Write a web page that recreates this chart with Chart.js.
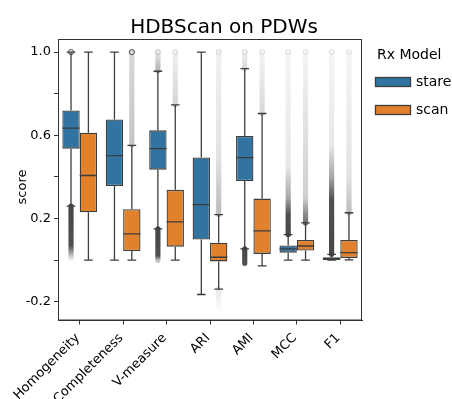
<!DOCTYPE html>
<html>
<head>
<meta charset="utf-8">
<script src="https://cdn.jsdelivr.net/npm/chart.js@4.4.1/dist/chart.umd.min.js"></script>
<style>
  html, body { margin: 0; padding: 0; background: #fff; }
</style>
</head>
<body>
<canvas id="boxChart" width="452" height="399"></canvas>
<script>
// categories and tick labels
const metrics = ['Homogeneity', 'Completeness', 'V-measure', 'ARI', 'AMI', 'MCC', 'F1'];
const yTicks = [-0.2, 0, 0.2, 0.4, 0.6, 0.8, 1.0];
const yTickLabels = ['-0.2', '', '0.2', '', '0.6', '', '1.0'];

// stare: whisker low, q1, median, q3, whisker high
const stareLo  = [0.26, 0.0, 0.15, -0.165, 0.054, 0.0, 0.0];
const stareQ1  = [0.536, 0.356, 0.435, 0.099, 0.380, 0.036, 0.001];
const stareMed = [0.635, 0.502, 0.536, 0.267, 0.493, 0.054, 0.007];
const stareQ3  = [0.719, 0.676, 0.624, 0.494, 0.597, 0.071, 0.014];
const stareHi  = [1.0, 1.0, 0.908, 1.0, 0.921, 0.123, 0.028];

// scan
const scanLo  = [0.0, 0.0, 0.0, -0.139, -0.027, 0.0, 0.001];
const scanQ1  = [0.23, 0.044, 0.065, -0.006, 0.030, 0.046, 0.011];
const scanMed = [0.407, 0.126, 0.184, 0.014, 0.141, 0.068, 0.036];
const scanQ3  = [0.613, 0.245, 0.338, 0.084, 0.296, 0.097, 0.097];
const scanHi  = [1.0, 0.552, 0.746, 0.219, 0.705, 0.179, 0.228];

// outlier runs as [value, density] stops; a single stop is one lone marker
const stareFliers = [
  [[[0.26, 0.95], [0.07, 0.9], [0.0, 0.04]], [[1.0, 0.9]]],
  [],
  [[[0.15, 0.95], [0.02, 0.9], [0.0, 0.3]], [[0.91, 0.4], [1.0, 0.12]], [[1.0, 0.2]]],
  [],
  [[[0.054, 0.95], [-0.015, 0.9]], [[0.92, 0.2], [1.0, 0.08]], [[1.0, 0.15]]],
  [[[0.123, 0.95], [0.22, 0.9], [0.3, 0.45], [0.45, 0.12], [1.0, 0.05]], [[1.0, 0.12]]],
  [[[0.028, 0.95], [0.29, 0.9], [0.4, 0.45], [0.55, 0.12], [1.0, 0.05]], [[1.0, 0.12]]]
];
const scanFliers = [
  [],
  [[[0.552, 0.3], [1.0, 0.2]], [[1.0, 0.9]]],
  [[[0.746, 0.22], [1.0, 0.08]], [[1.0, 0.15]]],
  [[[0.219, 0.35], [0.5, 0.15], [1.0, 0.08]], [[-0.139, 0.12], [-0.225, 0.03]], [[1.0, 0.15]]],
  [[[0.705, 0.2], [1.0, 0.06]], [[1.0, 0.12]]],
  [[[0.179, 0.75], [0.22, 0.6], [0.3, 0.25], [1.0, 0.05]], [[1.0, 0.12]]],
  [[[0.228, 0.35], [0.4, 0.15], [1.0, 0.05]], [[1.0, 0.12]]]
];

const stareColor = '#3274a1';
const scanColor = '#e1812c';
const lineColor = '#3d3d3d';

const series = [
  { lo: stareLo, med: stareMed, hi: stareHi, fliers: stareFliers },
  { lo: scanLo, med: scanMed, hi: scanHi, fliers: scanFliers }
];

function drawRun(ctx, x, ys, stops) {
  const r = 2.6;
  if (stops.length === 1) {
    ctx.strokeStyle = 'rgba(61,61,61,' + stops[0][1] + ')';
    ctx.lineWidth = 1;
    ctx.beginPath();
    ctx.arc(x, ys.getPixelForValue(stops[0][0]), r, 0, Math.PI * 2);
    ctx.stroke();
    return;
  }
  const px = stops.map(s => ys.getPixelForValue(s[0]));
  const y0 = px[0], y1 = px[px.length - 1];
  const g = ctx.createLinearGradient(0, y0, 0, y1);
  stops.forEach((s, k) => {
    g.addColorStop((px[k] - y0) / (y1 - y0), 'rgba(61,61,61,' + s[1] + ')');
  });
  ctx.fillStyle = g;
  const top = Math.min(y0, y1) - r, bot = Math.max(y0, y1) + r;
  ctx.beginPath();
  ctx.roundRect(x - r, top, 2 * r, bot - top, r);
  ctx.fill();
}

const boxExtras = {
  id: 'boxExtras',
  afterDatasetsDraw(chart) {
    const ctx = chart.ctx, ys = chart.scales.y, area = chart.chartArea;
    ctx.save();
    ctx.beginPath();
    ctx.rect(area.left, area.top, area.right - area.left, area.bottom - area.top);
    ctx.clip();
    series.forEach((s, di) => {
      const meta = chart.getDatasetMeta(di);
      meta.data.forEach((bar, i) => {
        const x = bar.x, w = bar.width;
        s.fliers[i].forEach(run => drawRun(ctx, x, ys, run));
        const yQ1 = Math.max(bar.y, bar.base), yQ3 = Math.min(bar.y, bar.base);
        const yLo = ys.getPixelForValue(s.lo[i]), yHi = ys.getPixelForValue(s.hi[i]);
        ctx.strokeStyle = lineColor;
        ctx.lineWidth = 1.3;
        ctx.beginPath();
        ctx.moveTo(x, yQ3); ctx.lineTo(x, yHi);
        ctx.moveTo(x, yQ1); ctx.lineTo(x, yLo);
        ctx.moveTo(x - w / 4, yHi); ctx.lineTo(x + w / 4, yHi);
        ctx.moveTo(x - w / 4, yLo); ctx.lineTo(x + w / 4, yLo);
        const yM = ys.getPixelForValue(s.med[i]);
        ctx.moveTo(x - w / 2, yM); ctx.lineTo(x + w / 2, yM);
        ctx.stroke();
      });
    });
    ctx.restore();
  },
  afterDraw(chart) {
    const ctx = chart.ctx, a = chart.chartArea;
    ctx.save();
    // frame
    ctx.strokeStyle = '#333';
    ctx.lineWidth = 1;
    ctx.strokeRect(a.left + 0.5, a.top + 0.5, a.right - a.left - 1, a.bottom - a.top - 1);
    // title
    ctx.fillStyle = '#000';
    ctx.font = '20px "DejaVu Sans"';
    ctx.textAlign = 'center';
    ctx.textBaseline = 'alphabetic';
    ctx.fillText('HDBScan on PDWs', 224, 33);
    // y label
    ctx.font = '13px "DejaVu Sans"';
    ctx.save();
    ctx.translate(23, 187);
    ctx.rotate(-Math.PI / 2);
    ctx.textBaseline = 'middle';
    ctx.fillText('score', 0, 0);
    ctx.restore();
    // legend
    ctx.font = '14px "DejaVu Sans"';
    ctx.textAlign = 'left';
    ctx.textBaseline = 'middle';
    ctx.fillText('Rx Model', 377, 55);
    [['stare', stareColor, 82], ['scan', scanColor, 110]].forEach(([name, col, yy]) => {
      ctx.fillStyle = col;
      ctx.fillRect(375.5, yy - 4.5, 35, 9);
      ctx.strokeStyle = lineColor;
      ctx.lineWidth = 1.3;
      ctx.strokeRect(375.5, yy - 4.5, 35, 9);
      ctx.fillStyle = '#000';
      ctx.fillText(name, 416, yy);
    });
    ctx.restore();
  }
};

Chart.defaults.font.family = '"DejaVu Sans"';
Chart.defaults.font.size = 13;
Chart.defaults.color = '#000';

new Chart(document.getElementById('boxChart'), {
  type: 'bar',
  data: {
    labels: metrics,
    datasets: [
      {
        label: 'stare',
        data: metrics.map((m, i) => [stareQ1[i], stareQ3[i]]),
        backgroundColor: stareColor,
        borderColor: lineColor,
        borderWidth: 1.3,
        borderSkipped: false,
        barPercentage: 1,
        categoryPercentage: 0.8
      },
      {
        label: 'scan',
        data: metrics.map((m, i) => [scanQ1[i], scanQ3[i]]),
        backgroundColor: scanColor,
        borderColor: lineColor,
        borderWidth: 1.3,
        borderSkipped: false,
        barPercentage: 1,
        categoryPercentage: 0.8
      }
    ]
  },
  options: {
    responsive: false,
    animation: false,
    layout: { padding: { top: 39, right: 90, left: 0, bottom: 0 } },
    plugins: {
      legend: { display: false },
      tooltip: { enabled: false }
    },
    scales: {
      x: {
        afterFit(scale) { scale.height = 78.5; },
        grid: { display: true, drawOnChartArea: false, offset: false, tickLength: 4, color: '#333' },
        border: { display: true, color: '#333' },
        ticks: { minRotation: 45, maxRotation: 45, autoSkip: false, padding: 6, labelOffset: -2 }
      },
      y: {
        min: -0.29,
        max: 1.063,
        afterFit(scale) { scale.width = 58; },
        afterBuildTicks(scale) { scale.ticks = yTicks.map(v => ({ value: v })); },
        grid: { display: true, drawOnChartArea: false, tickLength: 4, color: '#333' },
        border: { display: true, color: '#333' },
        ticks: { padding: 3, callback: (v, i) => yTickLabels[i] }
      }
    }
  },
  plugins: [boxExtras]
});
</script>
</body>
</html>
